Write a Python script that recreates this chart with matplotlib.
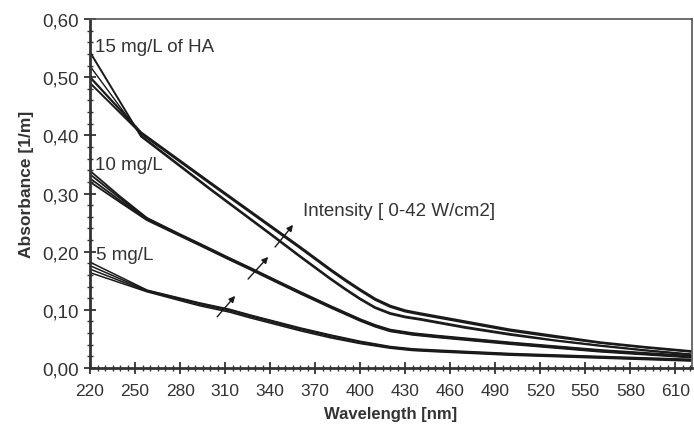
import matplotlib
matplotlib.use("Agg")
import matplotlib.pyplot as plt
from matplotlib.ticker import MultipleLocator

plt.rcParams['font.family'] = ['Liberation Sans', 'DejaVu Sans']

# 15 mg/L of HA
wl15 = [220, 254, 300, 340, 360, 380, 390, 400, 410, 420, 430, 440, 470, 500, 530, 560, 590, 620]
ha15_a = [0.500, 0.405, 0.319, 0.245, 0.208, 0.170, 0.152, 0.135, 0.119, 0.107, 0.099, 0.094, 0.080, 0.066, 0.055, 0.044, 0.036, 0.029]
ha15_b = [0.490, 0.403, 0.317, 0.243, 0.206, 0.168, 0.150, 0.133, 0.117, 0.105, 0.097, 0.092, 0.078, 0.064, 0.053, 0.043, 0.035, 0.028]
ha15_c = [0.543, 0.398, 0.307, 0.230, 0.191, 0.153, 0.135, 0.118, 0.103, 0.093, 0.087, 0.083, 0.069, 0.057, 0.047, 0.038, 0.030, 0.023]
ha15_d = [0.519, 0.400, 0.309, 0.232, 0.193, 0.155, 0.137, 0.120, 0.105, 0.095, 0.089, 0.085, 0.071, 0.059, 0.048, 0.039, 0.031, 0.024]

# 10 mg/L
wl10 = [220, 240, 258, 280, 293, 313, 327, 347, 360, 380, 400, 410, 420, 435, 450, 500, 560, 620]
ha10_a = [0.339, 0.295, 0.258, 0.230, 0.214, 0.189, 0.172, 0.147, 0.131, 0.107, 0.084, 0.074, 0.066, 0.060, 0.056, 0.044, 0.031, 0.021]
ha10_b = [0.333, 0.292, 0.257, 0.229, 0.213, 0.188, 0.171, 0.146, 0.130, 0.106, 0.083, 0.073, 0.065, 0.059, 0.055, 0.043, 0.030, 0.020]
ha10_c = [0.326, 0.288, 0.256, 0.228, 0.212, 0.187, 0.170, 0.145, 0.129, 0.105, 0.082, 0.072, 0.064, 0.058, 0.054, 0.042, 0.029, 0.019]
ha10_d = [0.320, 0.285, 0.254, 0.227, 0.211, 0.186, 0.169, 0.144, 0.128, 0.104, 0.081, 0.071, 0.063, 0.057, 0.053, 0.041, 0.028, 0.018]

# 5 mg/L
wl5 = [220, 258, 293, 313, 327, 360, 380, 400, 420, 435, 450, 500, 560, 620]
ha5_a = [0.182, 0.134, 0.112, 0.101, 0.091, 0.069, 0.057, 0.046, 0.037, 0.033, 0.031, 0.025, 0.020, 0.015]
ha5_b = [0.176, 0.133, 0.111, 0.100, 0.090, 0.068, 0.056, 0.045, 0.036, 0.032, 0.030, 0.024, 0.019, 0.014]
ha5_c = [0.170, 0.132, 0.109, 0.098, 0.088, 0.066, 0.054, 0.043, 0.035, 0.031, 0.029, 0.023, 0.018, 0.013]
ha5_d = [0.164, 0.131, 0.107, 0.096, 0.086, 0.064, 0.052, 0.042, 0.034, 0.030, 0.028, 0.022, 0.017, 0.012]

xticks = [220, 250, 280, 310, 340, 370, 400, 430, 460, 490, 520, 550, 580, 610]
yticks = [0.0, 0.1, 0.2, 0.3, 0.4, 0.5, 0.6]
ylabels = ['0,00', '0,10', '0,20', '0,30', '0,40', '0,50', '0,60']

# arrows (start, end) in data units
arrows = [((304.7, 0.088), (316.7, 0.124)),
          ((325.3, 0.153), (338.7, 0.191)),
          ((343.3, 0.208), (355.3, 0.246))]

txt = '#333333'
ln = '#1a1a1a'

fig = plt.figure(figsize=(6.94, 4.35), dpi=100)
ax = fig.add_axes([0.1297, 0.1517, 0.8673, 0.8023])

for ys, lw in [(ha15_a, 1.6), (ha15_b, 1.4), (ha15_c, 1.4), (ha15_d, 1.0)]:
    ax.plot(wl15, ys, color=ln, lw=lw)
for ys in [ha10_a, ha10_b, ha10_c, ha10_d]:
    ax.plot(wl10, ys, color=ln, lw=1.3)
for ys in [ha5_a, ha5_b, ha5_c, ha5_d]:
    ax.plot(wl5, ys, color=ln, lw=1.1)

for (x0, y0), (x1, y1) in arrows:
    ax.annotate('', xy=(x1, y1), xytext=(x0, y0),
                arrowprops=dict(arrowstyle='-|>', color=ln, lw=1.0,
                                mutation_scale=9, shrinkA=0, shrinkB=0))

ax.text(223.3, 0.553, '15 mg/L of HA', fontsize=13.5, color=txt, va='center')
ax.text(223.3, 0.350, '10 mg/L', fontsize=13.5, color=txt, va='center')
ax.text(224.0, 0.196, '5 mg/L', fontsize=13.5, color=txt, va='center')
ax.text(362, 0.270, 'Intensity [ 0-42 W/cm2]', fontsize=13.5, color=txt, va='center')

ax.set_xlim(220, 621)
ax.set_ylim(0, 0.6)
ax.set_xticks(xticks)
ax.set_xticklabels([str(v) for v in xticks])
ax.set_yticks(yticks)
ax.set_yticklabels(ylabels)
ax.xaxis.set_minor_locator(MultipleLocator(5))
ax.yaxis.set_minor_locator(MultipleLocator(0.02))
ax.tick_params(which='major', direction='inout', length=9, width=1.3,
               labelcolor=txt, color='#333333', top=False, right=False)
ax.tick_params(which='minor', direction='inout', length=5, width=1.0,
               color='#333333', top=False, right=False)
ax.tick_params(axis='x', pad=6, labelsize=12.5)
ax.tick_params(axis='y', labelsize=13.5)

for s in ['left', 'bottom']:
    ax.spines[s].set_linewidth(2.0)
    ax.spines[s].set_color('#333333')
for s in ['top', 'right']:
    ax.spines[s].set_linewidth(1.2)
    ax.spines[s].set_color('#555555')

ax.set_xlabel('Wavelength [nm]', fontsize=12, fontweight='bold', color=txt, labelpad=6)
ax.set_ylabel('Absorbance [1/m]', fontsize=12.5, fontweight='bold', color=txt, labelpad=6)
ax.yaxis.set_label_coords(-0.093, 0.53)

fig.savefig('out.png', dpi=100)
